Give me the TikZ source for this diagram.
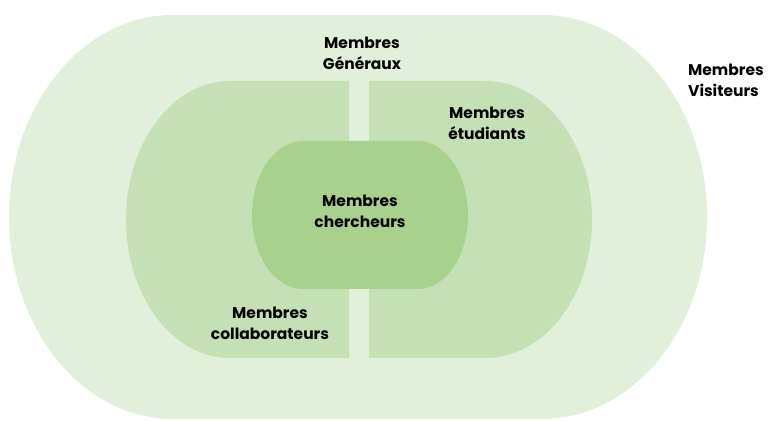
\documentclass[tikz,border=0pt]{standalone}
\usepackage{fontspec}
\setmainfont{Poppins}
\definecolor{outerc}{HTML}{E2EFDA}
\definecolor{midc}{HTML}{C5E0B4}
\definecolor{innerc}{HTML}{A9D18E}
\tikzset{lbl/.style={font=\bfseries\fontsize{15.5}{21}\selectfont, align=center, inner sep=0pt, text=black}}
\begin{document}
\begin{tikzpicture}[x=1pt,y=1pt]
\useasboundingbox (0,0) rectangle (770,420);
% outer
\fill[outerc] (173,405) -- (542,405) arc[start angle=90, end angle=-90, x radius=165, y radius=202]
  -- (173,1) arc[start angle=270, end angle=90, x radius=164, y radius=202] -- cycle;
% middle left
\fill[midc] (349,339) -- (230,339) arc[start angle=90, end angle=270, x radius=104, y radius=138.5] -- (349,62) -- cycle;
% middle right
\fill[midc] (369,339) -- (485,339) arc[start angle=90, end angle=-90, x radius=107, y radius=138.5] -- (369,62) -- cycle;
% inner
\fill[innerc] (303,279) -- (418,279) arc[start angle=90, end angle=-90, x radius=50, y radius=74]
  -- (303,131) arc[start angle=270, end angle=90, x radius=51, y radius=74] -- cycle;
\node[lbl] (gen) at (362,367) {Membres\\Généraux};
\node[lbl] (etu) at (487,297) {Membres\\étudiants};
\node[lbl] (che) at (360,209) {Membres\\chercheurs};
\node[lbl] (col) at (270,97) {Membres\\collaborateurs};
\node[lbl, anchor=west, align=left] (vis) at (688,340) {Membres\\Visiteurs};
\end{tikzpicture}
\end{document}
